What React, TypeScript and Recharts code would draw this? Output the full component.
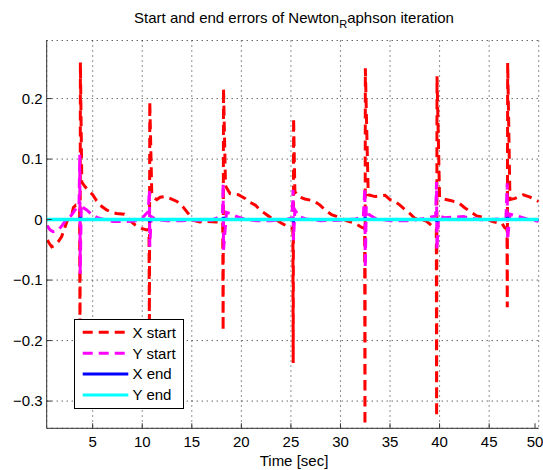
import { CartesianGrid, Legend, Line, LineChart, XAxis, YAxis } from "recharts";

// values, [time, error]
const xStart = [
  [0.42, -0.034], [0.65, -0.04], [0.86, -0.045], [1.2, -0.042], [1.55, -0.036], [1.87, -0.028],
  [2.15, -0.015], [2.4, -0.003], [2.7, 0.004], [2.9, 0.008], [3.05, 0.02], [3.3, 0.024], [3.55, 0.023],
  [3.68, 0.021], [3.72, -0.2], [3.76, 0.26],
  [3.9, 0.062], [4.2, 0.055], [4.5, 0.049], [5.0, 0.041], [5.4, 0.031], [5.9, 0.022], [6.4, 0.016],
  [6.9, 0.012], [7.4, 0.01], [8.2, 0.009], [8.6, 0.002], [9.0, -0.005], [9.3, -0.009], [9.6, -0.012],
  [10.0, -0.015], [10.45, -0.017], [10.68, -0.016], [10.72, -0.18], [10.76, 0.195],
  [10.96, 0.044], [11.2, 0.036], [11.46, 0.033], [11.8, 0.037], [12.3, 0.038], [12.8, 0.035],
  [13.5, 0.03], [14.1, 0.021], [14.65, 0.01], [15.1, -0.001], [15.8, -0.004], [16.5, -0.003],
  [17.5, -0.004], [18.12, -0.004], [18.16, -0.184], [18.2, 0.217],
  [18.4, 0.056], [18.52, 0.052], [18.86, 0.043], [19.2, 0.042], [19.7, 0.041], [20.37, 0.035],
  [20.7, 0.03], [21.4, 0.024], [21.88, 0.016], [22.56, 0.008], [23.06, 0.002], [23.57, -0.001],
  [24.07, -0.006], [24.5, -0.01], [24.91, -0.014], [25.2, -0.015], [25.23, -0.237], [25.27, 0.168],
  [25.4, 0.046], [25.75, 0.038], [26.4, 0.034], [27.3, 0.031], [27.94, 0.024], [28.44, 0.016],
  [29.1, 0.008], [29.8, 0.004], [30.63, -0.002], [31.3, -0.005], [31.47, -0.006], [32.15, -0.013],
  [32.44, -0.014], [32.47, -0.34], [32.51, 0.25],
  [32.8, 0.041], [33.5, 0.038], [34.0, 0.039], [34.5, 0.04], [35.0, 0.033], [35.3, 0.032],
  [36.0, 0.024], [36.34, 0.019], [37.0, 0.01], [37.5, 0.002], [38.4, -0.001], [38.7, -0.003],
  [39.4, -0.013], [39.67, -0.015], [39.7, -0.326], [39.74, 0.237],
  [40.0, 0.036], [40.38, 0.034], [41.2, 0.031], [41.9, 0.028], [42.5, 0.02], [43.1, 0.013],
  [43.75, 0.006], [44.4, 0.004], [45.26, -0.003], [46.1, -0.006], [46.27, -0.006], [46.6, -0.014],
  [46.8, -0.015], [46.83, -0.145], [46.87, 0.259],
  [47.1, 0.033], [47.6, 0.035], [48.45, 0.041], [49.13, 0.037], [50.0, 0.03],
];

const yStart = [
  [0.4, -0.01], [0.7, -0.017], [1.0, -0.02], [1.3, -0.019], [1.6, -0.016], [1.9, -0.01],
  [2.2, -0.003], [2.5, 0.002], [2.8, 0.006], [3.1, 0.013], [3.4, 0.02], [3.62, 0.022],
  [3.7, 0.107], [3.74, -0.09],
  [3.85, 0.024], [4.1, 0.019], [4.4, 0.016], [5.0, 0.007], [5.5, 0.003], [6.4, -0.001],
  [7.1, -0.003], [8.5, -0.003], [9.5, -0.002], [10.0, 0.002], [10.3, 0.008], [10.6, 0.013],
  [10.72, 0.049], [10.76, -0.045],
  [10.9, 0.005], [11.4, 0.0], [12.5, -0.002], [14.0, -0.002], [15.5, -0.001], [17.0, -0.001],
  [17.7, 0.004], [18.1, 0.011], [18.16, 0.06], [18.2, -0.05],
  [18.5, 0.012], [18.86, 0.01], [19.5, 0.005], [20.5, 0.0], [21.5, -0.002], [23.0, -0.002],
  [24.5, 0.0], [25.1, 0.003], [25.22, 0.049], [25.26, -0.034],
  [25.4, 0.016], [25.8, 0.005], [26.5, 0.001], [28.0, -0.002], [30.0, -0.001], [31.5, 0.001],
  [32.3, 0.004], [32.46, 0.052], [32.5, -0.08],
  [32.6, 0.021], [32.9, 0.008], [33.5, 0.002], [35.0, -0.002], [37.0, -0.002], [38.5, 0.002],
  [39.6, 0.006], [39.69, 0.062], [39.73, -0.05],
  [39.9, 0.006], [40.5, 0.003], [42.4, 0.005], [43.2, 0.002], [44.5, -0.001], [46.0, 0.001],
  [46.7, 0.003], [46.82, 0.06], [46.86, -0.034],
  [47.1, 0.009], [48.0, 0.005], [49.0, 0.0], [50.0, -0.003],
];

const xEnd = [
  [0.36, 0], [3.7, 0], [3.74, 0.004], [3.8, 0], [10.7, 0], [10.74, -0.004], [10.8, 0],
  [18.15, 0], [18.18, 0.004], [18.25, 0], [25.2, 0], [25.24, -0.004], [25.3, 0],
  [32.45, 0], [32.49, 0.004], [32.55, 0], [39.68, 0], [39.72, -0.004], [39.78, 0],
  [46.8, 0], [46.84, 0.004], [46.9, 0], [50, 0],
];

const yEnd = [[0.36, 0], [10.7, 0], [25.2, 0], [39.7, 0], [50, 0]];

const xTicks = [5, 10, 15, 20, 25, 30, 35, 40, 45, 50];
const yTicks = [-0.3, -0.2, -0.1, 0, 0.1, 0.2];

const series = [
  { name: "X start", pts: xStart, color: "#ff0000", dash: "10 6", width: 3 },
  { name: "Y start", pts: yStart, color: "#ff00ff", dash: "10 6", width: 3 },
  { name: "X end", pts: xEnd, color: "#0000ff", dash: undefined, width: 3 },
  { name: "Y end", pts: yEnd, color: "#00ffff", dash: undefined, width: 3.5 },
];

const FONT = "'Liberation Sans', Arial, Helvetica, sans-serif";
const AXIS = "#333";

const fmt = (v: number) => (v < 0 ? "\u2212" + Math.abs(v) : String(v));

function XTick(props: any) {
  const { x, y, payload } = props;
  return (
    <g>
      <line x1={x} y1={y} x2={x} y2={y - 5} stroke={AXIS} />
      <text x={x} y={y + 18.4} textAnchor="middle" fontSize={15} fill="#000">
        {payload.value}
      </text>
    </g>
  );
}

function YTick(props: any) {
  const { x, y, payload } = props;
  return (
    <g>
      <line x1={x} y1={y} x2={x + 5} y2={y} stroke={AXIS} />
      <text x={x - 4} y={y + 5.3} textAnchor="end" fontSize={15} fill="#000">
        {fmt(payload.value)}
      </text>
    </g>
  );
}

function LegendBox() {
  return (
    <svg width={110} height={90} style={{ display: "block" }}>
      <rect x={0.5} y={0.5} width={109} height={89} fill="#fff" stroke="#000" />
      {series.map((s, i) => {
        const cy = 13.3 + i * 20.9;
        return (
          <g key={s.name}>
            <line x1={8.7} x2={54.3} y1={cy} y2={cy} stroke={s.color} strokeWidth={3} strokeDasharray={s.dash} />
            <text x={58.5} y={cy + 5.3} fontSize={15} fill="#000" fontFamily={FONT}>
              {s.name}
            </text>
          </g>
        );
      })}
    </svg>
  );
}

export default function App() {
  return (
    <div style={{ position: "absolute", left: 0, top: 0, width: 543, height: 470, background: "#fff", fontFamily: FONT }}>
      <LineChart width={543} height={470} margin={{ top: 40.5, right: 4.3, bottom: 0, left: 0 }}>
        <CartesianGrid stroke="#222" strokeDasharray="1 4" />
        <XAxis
          type="number"
          dataKey="t"
          domain={[0.36, 50]}
          ticks={xTicks}
          allowDataOverflow
          height={41.7}
          tickSize={0}
          tickMargin={0}
          tickLine={false}
          axisLine={{ stroke: AXIS }}
          tick={XTick}
        />
        <YAxis
          type="number"
          domain={[-0.345, 0.296]}
          ticks={yTicks}
          allowDataOverflow
          width={46.7}
          tickSize={0}
          tickMargin={0}
          tickLine={false}
          axisLine={{ stroke: AXIS }}
          tick={YTick}
        />
        {series.map((s) => (
          <Line
            key={s.name}
            name={s.name}
            data={s.pts.map(([t, v]) => ({ t, v }))}
            dataKey="v"
            type="linear"
            stroke={s.color}
            strokeWidth={s.width}
            strokeDasharray={s.dash}
            dot={false}
            activeDot={false}
            isAnimationActive={false}
          />
        ))}
        <Legend
          layout="vertical"
          align="center"
          verticalAlign="middle"
          wrapperStyle={{ left: 74, top: 319, width: 110, height: 90 }}
          content={() => <LegendBox />}
        />
        <text x={294} y={23} textAnchor="middle" fontSize={15} fill="#000">
          Start and end errors of Newton
          <tspan dy={5} fontSize={11}>R</tspan>
          <tspan dy={-5}>aphson iteration</tspan>
        </text>
        <text x={294} y={466} textAnchor="middle" fontSize={15} fill="#000">
          Time [sec]
        </text>
      </LineChart>
    </div>
  );
}
